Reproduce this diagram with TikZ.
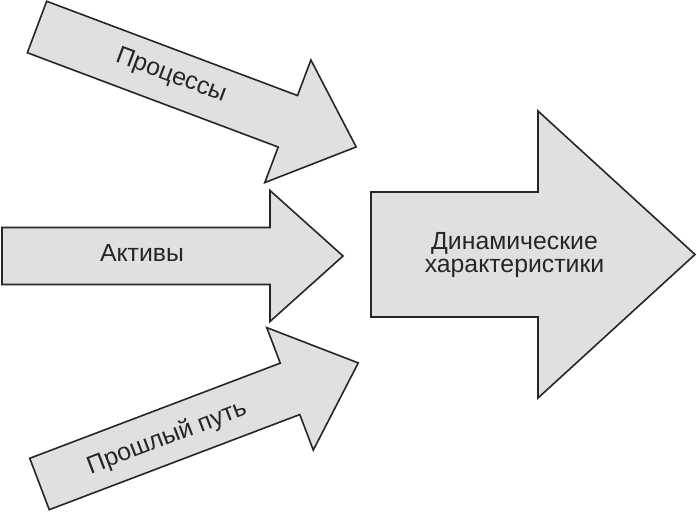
\documentclass[tikz,border=0pt]{standalone}
\usepackage{fontspec}
\setmainfont{Liberation Sans}
\definecolor{arrowfill}{HTML}{E0E0E0}
\tikzset{
  blockarrow/.style={draw=black!85, line width=1.6pt, fill=arrowfill, line join=miter},
  lbl/.style={font=\fontsize{24.8}{23}\selectfont, inner sep=0pt, text=black!85},
}
% #1 shaft length, #2 shaft half width, #3 head length, #4 head half width
\newcommand{\arrowpath}[4]{(0,-#2) -- (#1,-#2) -- (#1,-#4) -- ({#1+#3},0) -- (#1,#4) -- (#1,#2) -- (0,#2) -- cycle}
\begin{document}
\begin{tikzpicture}[x=1pt,y=-1pt]
\useasboundingbox (0,0) rectangle (697,512);
% top arrow
\begin{scope}[shift={(37,27)}, rotate=-20.6]
  \draw[blockarrow] \arrowpath{268}{27.5}{73}{65.5};
\end{scope}
% middle arrow
\begin{scope}[shift={(2,256)}]
  \draw[blockarrow] \arrowpath{268}{28.5}{73}{65.5};
\end{scope}
% bottom arrow
\begin{scope}[shift={(39.5,484)}, rotate=20.8]
  \draw[blockarrow] \arrowpath{268}{27.5}{73}{65.5};
\end{scope}
% big arrow
\begin{scope}[shift={(371,254.5)}]
  \draw[blockarrow] \arrowpath{167}{62.5}{157}{143.5};
\end{scope}
\node[lbl, rotate=-20.6] (proc) at (171,76) {Процессы};
\node[lbl] (akt) at (142,253) {Активы};
\node[lbl, rotate=20.8] (past) at (167,438) {Прошлый путь};
\node[lbl, align=center] (dyn) at (514.5,255) {Динамические\\характеристики};
\end{tikzpicture}
\end{document}
